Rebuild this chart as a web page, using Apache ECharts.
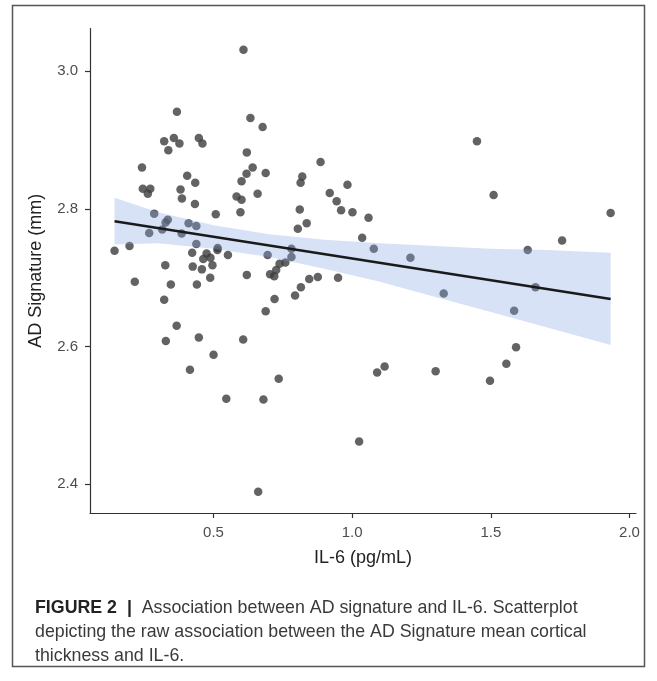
<!DOCTYPE html>
<html><head><meta charset="utf-8">
<script src="https://cdn.jsdelivr.net/npm/echarts@6/dist/echarts.min.js"></script>
<style>html,body{margin:0;padding:0;background:#fff}#c{width:657px;height:681px}</style>
</head><body><div id="c"></div><script>
// IL-6 (pg/mL) values
const il6 = [0.608,0.368,0.633,0.677,0.322,0.357,0.377,0.337,0.447,0.460,
0.620,0.242,0.405,0.434,0.641,0.619,0.688,0.601,0.245,0.272,
0.263,0.381,0.386,0.433,0.583,0.601,0.659,0.597,0.508,0.286,
0.335,0.327,0.410,0.438,0.315,0.268,0.385,0.438,0.197,0.143,
0.423,0.475,0.515,0.514,0.552,0.463,0.489,0.695,0.738,0.759,
0.326,0.425,0.458,0.496,0.488,0.620,0.726,0.704,0.719,0.216,
0.346,0.440,0.322,0.720,0.688,0.367,0.328,0.447,0.607,0.500,
0.415,0.735,0.546,0.680,0.661,0.886,0.820,0.814,0.983,0.919,
0.944,0.960,1.001,1.059,0.811,0.836,0.804,1.036,1.078,1.210,
1.330,0.781,0.781,0.815,0.845,0.876,0.949,0.794,1.090,1.117,
1.301,1.025,1.450,1.510,1.932,1.757,1.633,1.661,1.584,1.591,1.556,1.497];
// AD signature (mm) values
const adSig = [3.031,2.941,2.932,2.919,2.898,2.903,2.895,2.885,2.903,2.895,
2.882,2.860,2.848,2.838,2.860,2.851,2.852,2.840,2.829,2.829,
2.822,2.828,2.815,2.807,2.818,2.813,2.822,2.795,2.792,2.793,
2.784,2.780,2.779,2.775,2.770,2.765,2.764,2.749,2.746,2.739,
2.736,2.735,2.743,2.740,2.733,2.727,2.729,2.733,2.720,2.722,
2.718,2.716,2.712,2.718,2.700,2.704,2.711,2.705,2.702,2.694,
2.690,2.690,2.668,2.669,2.651,2.630,2.608,2.613,2.610,2.588,
2.566,2.553,2.524,2.523,2.389,2.868,2.847,2.838,2.835,2.823,
2.811,2.798,2.795,2.787,2.799,2.779,2.771,2.758,2.742,2.729,
2.677,2.742,2.730,2.686,2.698,2.701,2.700,2.674,2.562,2.571,
2.564,2.462,2.898,2.820,2.794,2.754,2.740,2.686,2.652,2.599,2.575,2.550];
// fitted line and confidence band
const fitX = [0.143, 1.932];
const fitY = [2.782, 2.669];
const bandX = [0.143,0.3,0.5,0.7,0.9,1.1,1.3,1.5,1.7,1.932];
const bandLower = [2.748,2.750,2.742,2.730,2.713,2.694,2.672,2.650,2.628,2.602];
const bandUpper = [2.816,2.795,2.776,2.763,2.755,2.750,2.746,2.742,2.740,2.736];
// tick labels
const xTicks = [0.5, 1.0, 1.5, 2.0];
const yTicks = [2.4, 2.6, 2.8, 3.0];
const xTitle = 'IL-6 (pg/mL)';
const yTitle = 'AD Signature (mm)';
const captionBold = 'FIGURE 2';
const captionLines = [
 'Association between AD signature and IL-6. Scatterplot',
 'depicting the raw association between the AD Signature mean cortical',
 'thickness and IL-6.'
];

const FONT = 'Liberation Sans, Arial, Helvetica, sans-serif';
const chart = echarts.init(document.getElementById('c'), null, {renderer: 'canvas'});
const axisLineStyle = {color: '#333', width: 1.2};
const option = {
  animation: false,
  backgroundColor: '#fff',
  grid: {left: 90, top: 28.5, width: 546, height: 484.5},
  xAxis: {
    type: 'value', min: 0.0545, max: 2.0235,
    name: xTitle, nameLocation: 'middle', nameGap: 36,
    nameTextStyle: {fontSize: 18, color: '#222', fontFamily: FONT},
    axisLine: {show: true, onZero: false, lineStyle: axisLineStyle},
    axisTick: {show: true, length: 5, customValues: xTicks, lineStyle: axisLineStyle},
    axisLabel: {customValues: xTicks, formatter: v => Number(v).toFixed(1), fontSize: 15, color: '#4d4d4d', margin: 12, fontFamily: FONT},
    splitLine: {show: false}
  },
  yAxis: {
    type: 'value', min: 2.358, max: 3.062,
    name: yTitle, nameLocation: 'middle', nameGap: 45, nameRotate: 90,
    nameTextStyle: {fontSize: 18, color: '#222', fontFamily: FONT},
    axisLine: {show: true, onZero: false, lineStyle: axisLineStyle},
    axisTick: {show: true, length: 5, customValues: yTicks, lineStyle: axisLineStyle},
    axisLabel: {customValues: yTicks, formatter: v => Number(v).toFixed(1), fontSize: 15, color: '#4d4d4d', margin: 12, fontFamily: FONT},
    splitLine: {show: false}
  },
  series: [
    {
      type: 'scatter', z: 2, symbolSize: 8.5,
      data: il6.map((x, i) => [x, adSig[i]]),
      itemStyle: {color: '#3c3c3c', opacity: 0.8}
    },
    {
      type: 'custom', z: 3, silent: true,
      data: [[bandX[0], bandLower[0]]],
      renderItem: function (params, api) {
        const pts = [];
        for (let i = 0; i < bandX.length; i++) pts.push(api.coord([bandX[i], bandUpper[i]]));
        for (let i = bandX.length - 1; i >= 0; i--) pts.push(api.coord([bandX[i], bandLower[i]]));
        return {type: 'polygon', shape: {points: pts}, style: {fill: 'rgba(130,165,226,0.32)', stroke: null}};
      }
    },
    {
      type: 'line', z: 4, symbol: 'none', silent: true,
      data: fitX.map((x, i) => [x, fitY[i]]),
      lineStyle: {color: '#1a1a1a', width: 2.5}
    }
  ],
  graphic: [
    {type: 'rect', z: 10, shape: {x: 12.5, y: 5.5, width: 632, height: 661},
     style: {fill: 'none', stroke: '#555', lineWidth: 1.5}},
    {type: 'text', z: 10, x: 35, y: 608,
     style: {text: '{b|' + captionBold + '  |}  ' + captionLines[0], fill: '#3a3a3a', font: '17.8px ' + FONT,
       verticalAlign: 'middle', rich: {b: {fontWeight: 'bold', fill: '#222', fontSize: 17.8, fontFamily: FONT}}}},
    {type: 'text', z: 10, x: 35, y: 632,
     style: {text: captionLines[1], fill: '#3a3a3a', font: '17.8px ' + FONT, verticalAlign: 'middle'}},
    {type: 'text', z: 10, x: 35, y: 656,
     style: {text: captionLines[2], fill: '#3a3a3a', font: '17.8px ' + FONT, verticalAlign: 'middle'}}
  ]
};
chart.setOption(option);
</script></body></html>
